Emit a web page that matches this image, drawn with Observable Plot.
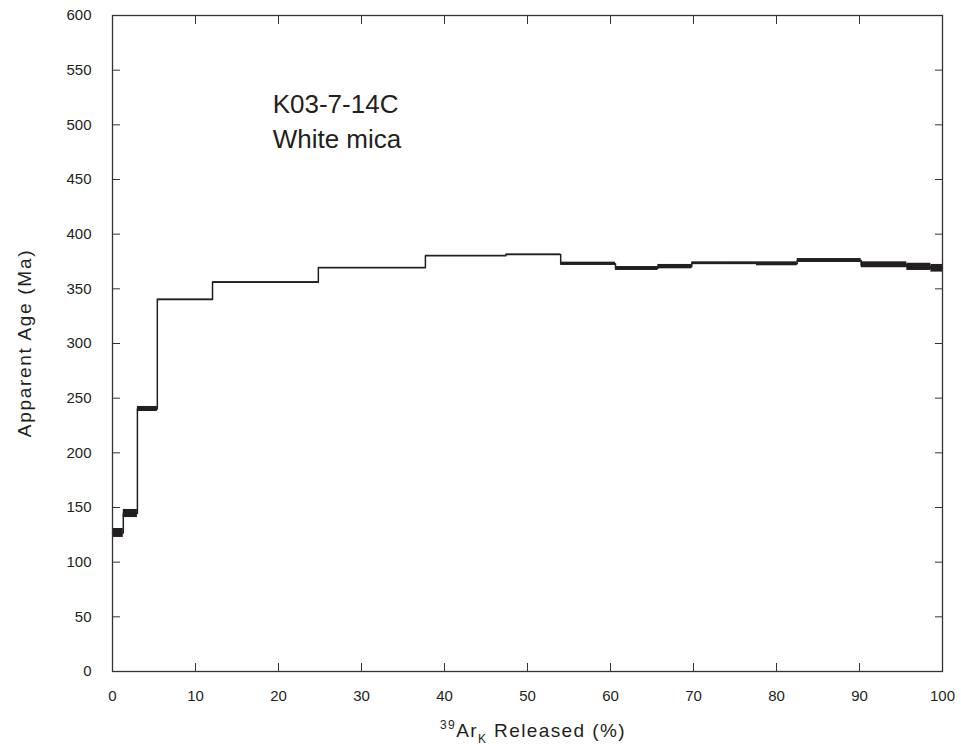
<!DOCTYPE html>
<html>
<head>
<meta charset="utf-8">
<script src="https://cdn.jsdelivr.net/npm/d3@7"></script>
<script src="https://cdn.jsdelivr.net/npm/@observablehq/plot@0.6"></script>
<style>
  html, body { margin: 0; padding: 0; background: #fff; }
  svg { font-family: "Liberation Sans", Arial, Helvetica, sans-serif; }
</style>
</head>
<body>
<div id="chart"></div>
<script>
// Cumulative 39Ar released (%) at the start of each step (last value = end)
const cumulative = [0, 1.3, 3.0, 5.4, 12.05, 24.8, 37.7, 47.4, 54.0, 60.6, 65.7, 69.8, 73.6, 77.6, 82.5, 90.2, 95.7, 98.6, 100];
// Apparent age (Ma) of each step
const ages = [126.7, 144.5, 240.1, 340.2, 356.1, 369.2, 380.2, 381.4, 372.9, 368.6, 370.3, 373.4, 373.4, 372.9, 375.9, 372.0, 370.1, 368.8];
// Error (± Ma) of each step
const errors = [4.1, 3.7, 2.3, 0.5, 0.5, 0.5, 0.5, 0.5, 1.5, 1.8, 2.0, 1.3, 1.3, 1.8, 1.8, 2.7, 3.3, 3.5];
const xTicks = [0, 10, 20, 30, 40, 50, 60, 70, 80, 90, 100];
const yTicks = [0, 50, 100, 150, 200, 250, 300, 350, 400, 450, 500, 550, 600];
const annotation = {x: 19.3, y: 478.4, text: "K03-7-14C\nWhite mica"};

const steps = ages.map((a, i) => ({
  x1: cumulative[i], x2: cumulative[i + 1], age: a, lo: a - errors[i], hi: a + errors[i]
}));
const linePts = ages.map((a, i) => ({x: cumulative[i], y: a}));
linePts.push({x: cumulative[cumulative.length - 1], y: ages[ages.length - 1]});

const ink = "#231f20";
const plot = Plot.plot({
  width: 961,
  height: 750,
  marginLeft: 112,
  marginRight: 19,
  marginTop: 15,
  marginBottom: 79,
  style: {fontFamily: "'Liberation Sans', Arial, Helvetica, sans-serif", color: ink, background: "#fff"},
  x: {domain: [0, 100]},
  y: {domain: [0, 600]},
  marks: [
    Plot.rect(steps, {x1: "x1", x2: "x2", y1: "lo", y2: "hi", fill: ink}),
    Plot.line(linePts, {x: "x", y: "y", curve: "step-after", stroke: ink, strokeWidth: 1.5}),
    Plot.frame({stroke: "#333", strokeWidth: 1.3}),
    Plot.axisX({ticks: xTicks, tickSize: -8, tickPadding: 27, fontSize: 15, label: null, stroke: "#333"}),
    Plot.axisX({anchor: "top", ticks: xTicks, tickSize: -8, tickFormat: () => "", label: null, stroke: "#333"}),
    Plot.axisY({ticks: yTicks, tickSize: -8, tickPadding: 29, fontSize: 15, label: null, stroke: "#333"}),
    Plot.axisY({anchor: "right", ticks: yTicks, tickSize: -8, tickFormat: () => "", label: null, stroke: "#333"}),
    Plot.text([annotation], {x: "x", y: "y", text: "text", textAnchor: "start", lineAnchor: "bottom", fontSize: 26, lineHeight: 1.38, fill: ink})
  ]
});

const svg = d3.select(plot);
// x-axis label with superscript and subscript
const xl = svg.append("text")
  .attr("x", 533).attr("y", 736.5)
  .attr("text-anchor", "middle")
  .attr("font-size", 19).attr("letter-spacing", "1.4px")
  .attr("fill", ink);
xl.append("tspan").attr("font-size", 12).attr("dy", -8).text("39");
xl.append("tspan").attr("dy", 8).text("Ar");
xl.append("tspan").attr("font-size", 12).attr("dy", 6).text("K");
xl.append("tspan").attr("dy", -6).text(" Released (%)");
// y-axis label
svg.append("text")
  .attr("transform", "translate(30.5,343) rotate(-90)")
  .attr("text-anchor", "middle")
  .attr("font-size", 19).attr("letter-spacing", "1.7px")
  .attr("fill", ink)
  .text("Apparent Age (Ma)");

document.getElementById("chart").appendChild(plot);
</script>
</body>
</html>
